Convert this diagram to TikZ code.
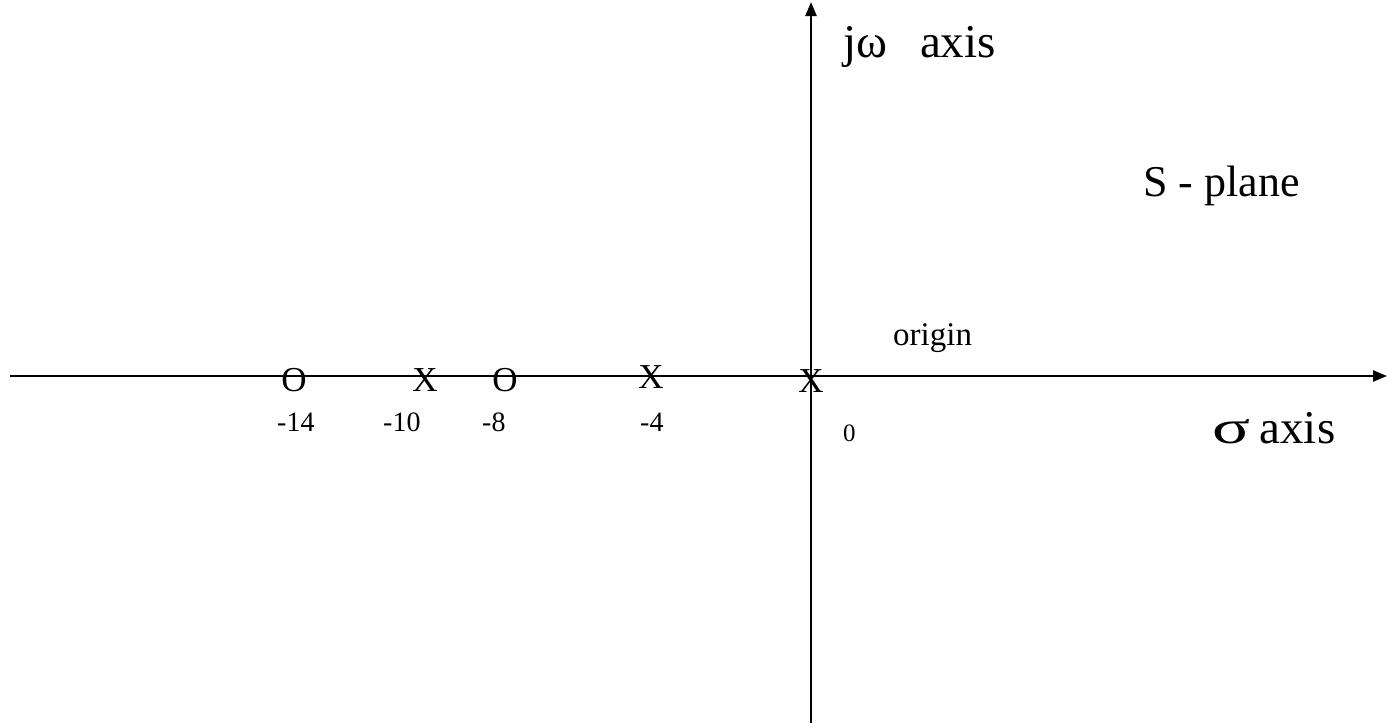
\documentclass[tikz,border=0pt]{standalone}
\usepackage{fontspec}
\setmainfont{Liberation Serif}
\usetikzlibrary{arrows.meta}
\begin{document}
\begin{tikzpicture}[x=1pt, y=-1pt,
  axis/.style={line width=2.4pt, -{Triangle[length=14pt, width=11pt]}},
  lbl/.style={anchor=base west, inner sep=0pt, font=\fontsize{47}{52}\selectfont},
  num/.style={anchor=base west, inner sep=0pt, font=\fontsize{28}{32}\selectfont},
  root/.style={inner sep=0pt, font=\fontsize{35}{40}\selectfont}]
\useasboundingbox (0,0) rectangle (1387,723);
\coordinate (west) at (10,376);
\coordinate (east) at (1387,376);
\coordinate (south) at (811,723);
\coordinate (north) at (811,2);
\draw[axis] (west) -- (east);
\draw[axis] (south) -- (north);
\node[root] (z1) at (294,380) {O};
\node[root] (p1) at (425,380) {X};
\node[root] (z2) at (505,380) {O};
\node[root] (p2) at (651,377) {X};
\node[root] (p3) at (811,381) {X};
\node[num] (n1) at (277,431) {-14};
\node[num] (n2) at (383,431) {-10};
\node[num] (n3) at (482,431) {-8};
\node[num] (n4) at (640,431) {-4};
\node[num, font=\fontsize{25}{28}\selectfont] (n5) at (843,441) {0};
\node[lbl] (jw) at (843,57) {jω\hspace{0.7em}axis};
\node[lbl, font=\fontsize{44}{48}\selectfont] (plane) at (1143,196) {S - plane};
\node[lbl, font=\fontsize{33}{36}\selectfont] (orig) at (893,345) {origin};
\node[lbl] (sig) at (1212,443) {\scalebox{1.5}[1]{σ}\hspace{0.2em}axis};
\end{tikzpicture}
\end{document}
